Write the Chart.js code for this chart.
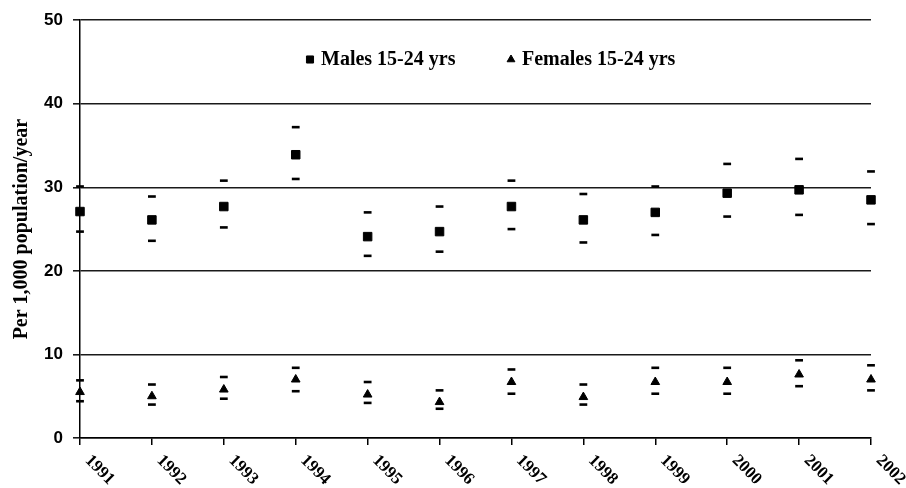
<!DOCTYPE html>
<html>
<head>
<meta charset="utf-8">
<script src="https://cdn.jsdelivr.net/npm/chart.js@4/dist/chart.umd.min.js"></script>
<style>
  html, body { margin: 0; padding: 0; background: #fff; }
  #wrap { width: 906px; height: 488px; }
</style>
</head>
<body>
<div id="wrap"><canvas id="c" width="906" height="488"></canvas></div>
<script>
// Years on the x axis
const years = ['1991','1992','1993','1994','1995','1996','1997','1998','1999','2000','2001','2002'];

// Rates per 1,000 population/year, males 15-24, with 95% limits
const malesRate  = [27.1, 26.1, 27.7, 33.9, 24.1, 24.7, 27.7, 26.1, 27.0, 29.3, 29.7, 28.5];
const malesUpper = [30.1, 28.9, 30.8, 37.2, 27.0, 27.7, 30.8, 29.2, 30.1, 32.8, 33.4, 31.9];
const malesLower = [24.7, 23.6, 25.2, 31.0, 21.8, 22.3, 25.0, 23.4, 24.3, 26.5, 26.7, 25.6];

// Rates per 1,000 population/year, females 15-24, with 95% limits
const femalesRate  = [5.5, 5.0, 5.8, 7.0, 5.2, 4.3, 6.7, 4.9, 6.7, 6.7, 7.6, 7.0];
const femalesUpper = [6.9, 6.4, 7.3, 8.4, 6.7, 5.7, 8.2, 6.4, 8.4, 8.4, 9.3, 8.7];
const femalesLower = [4.4, 4.0, 4.7, 5.6, 4.2, 3.5, 5.3, 4.0, 5.3, 5.3, 6.2, 5.7];

// Y axis ticks
const yTicks = [0, 10, 20, 30, 40, 50];

const seriesLabels = ['Males 15-24 yrs', 'Females 15-24 yrs'];
const yTitle = 'Per 1,000 population/year';

const serif = '"Liberation Serif", "Times New Roman", serif';
const sans = '"Liberation Sans", Arial, sans-serif';

function pointSet(label, data, style, radius, bw) {
  return {
    label: label,
    data: data,
    showLine: false,
    pointStyle: style,
    pointRadius: radius,
    pointHoverRadius: radius,
    pointBorderWidth: bw,
    pointBackgroundColor: '#000',
    pointBorderColor: '#000',
    borderColor: '#000',
    backgroundColor: '#000',
    clip: false
  };
}

// Legend drawn inside the plot, near its top
const innerLegend = {
  id: 'innerLegend',
  afterDraw(chart) {
    const ctx = chart.ctx;
    const items = [
      { style: 'rect', radius: 5, x: 310, text: seriesLabels[0], tx: 321 },
      { style: 'triangle', radius: 4.5, x: 511, text: seriesLabels[1], tx: 522 }
    ];
    const y = 59.5;
    ctx.save();
    items.forEach(it => {
      ctx.fillStyle = '#000';
      ctx.strokeStyle = '#000';
      ctx.lineWidth = 1;
      Chart.helpers.drawPoint(ctx, { pointStyle: it.style, radius: it.radius, borderWidth: 1, rotation: 0 }, it.x, y);
      ctx.font = 'bold 20px ' + serif;
      ctx.textBaseline = 'middle';
      ctx.textAlign = 'left';
      ctx.fillText(it.text, it.tx, y);
    });
    ctx.restore();
  }
};

// Year labels rotated 45 degrees clockwise, hanging below each tick
const slantedYears = {
  id: 'slantedYears',
  afterDraw(chart) {
    const ctx = chart.ctx;
    const xs = chart.scales.x;
    const base = chart.chartArea.bottom;
    ctx.save();
    ctx.font = 'bold 17px ' + serif;
    ctx.fillStyle = '#000';
    ctx.textAlign = 'left';
    ctx.textBaseline = 'middle';
    years.forEach((yr, i) => {
      const px = xs.getPixelForTick(i);
      ctx.save();
      ctx.translate(px + 7.5, base + 20);
      ctx.rotate(Math.PI / 4);
      ctx.fillText(yr, 0, 0);
      ctx.restore();
    });
    ctx.restore();
  }
};

new Chart(document.getElementById('c'), {
  type: 'line',
  data: {
    labels: years,
    datasets: [
      pointSet(seriesLabels[0], malesRate, 'rect', 6, 1),
      pointSet('Males upper', malesUpper, 'line', 3.9, 2.6),
      pointSet('Males lower', malesLower, 'line', 3.9, 2.6),
      pointSet(seriesLabels[1], femalesRate, 'triangle', 5, 1),
      pointSet('Females upper', femalesUpper, 'line', 3.9, 2.6),
      pointSet('Females lower', femalesLower, 'line', 3.9, 2.6)
    ]
  },
  options: {
    responsive: false,
    animation: false,
    devicePixelRatio: 1,
    layout: { padding: { top: 19, right: 35, left: 0, bottom: 0 } },
    plugins: {
      legend: { display: false },
      tooltip: { enabled: false }
    },
    scales: {
      x: {
        type: 'category',
        offset: false,
        afterFit(scale) { scale.height = 50; },
        ticks: { display: false, autoSkip: false },
        grid: {
          display: true,
          drawOnChartArea: false,
          drawTicks: true,
          tickLength: 7,
          color: '#000',
          lineWidth: 1.5
        },
        border: { display: true, color: '#000', width: 1.5 }
      },
      y: {
        min: yTicks[0],
        max: yTicks[yTicks.length - 1],
        afterFit(scale) { scale.width = 80; },
        afterBuildTicks(scale) { scale.ticks = yTicks.map(v => ({ value: v })); },
        ticks: {
          color: '#000',
          padding: 10,
          font: { family: sans, weight: 'bold', size: 17 }
        },
        grid: {
          color: '#1a1a1a',
          lineWidth: 1.6,
          drawTicks: true,
          tickLength: 7
        },
        border: { display: true, color: '#000', width: 1.5 },
        title: {
          display: true,
          text: yTitle,
          color: '#000',
          font: { family: serif, weight: 'bold', size: 20 },
          padding: { top: 10, bottom: 0 }
        }
      }
    }
  },
  plugins: [innerLegend, slantedYears]
});
</script>
</body>
</html>
